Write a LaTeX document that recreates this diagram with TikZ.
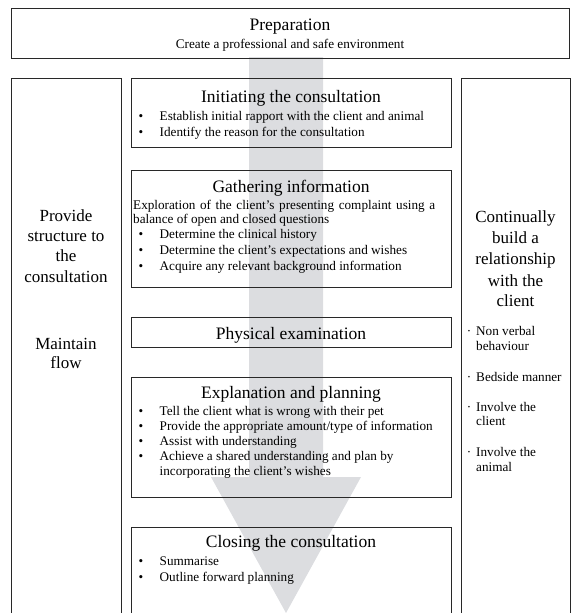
\documentclass[tikz,border=0pt]{standalone}
\usepackage{fontspec}
\setmainfont{Liberation Serif}
\definecolor{arrowgray}{RGB}{220,221,224}
\definecolor{linegray}{RGB}{40,40,40}
\begin{document}
\begin{tikzpicture}[x=1pt,y=-1pt,
  box/.style={draw=linegray, line width=0.9pt, inner sep=0pt, anchor=north west},
  head/.style={font=\fontsize{17.5}{20}\selectfont, anchor=base, inner sep=0pt},
  bodyc/.style={font=\fontsize{13.2}{15}\selectfont, anchor=base, inner sep=0pt},
  body/.style={font=\fontsize{13.2}{15}\selectfont, anchor=base west, inner sep=0pt},
  side/.style={font=\fontsize{17}{20}\selectfont, anchor=base, inner sep=0pt},
  bul/.style={font=\fontsize{13.2}{15}\selectfont, anchor=base, inner sep=0pt}]
\useasboundingbox (0,0) rectangle (572,613);
\clip (0,0) rectangle (572,613);
% big gray arrow
\fill[arrowgray] (249,57) -- (323,57) -- (323,477) -- (361,477) -- (286,613) -- (211,477) -- (249,477) -- cycle;
% boxes
\node[box, minimum width=558pt, minimum height=49.5pt] (prep) at (11,8) {};
\node[box, minimum width=109.7pt, minimum height=560pt] (left) at (11,77.7) {};
\node[box, minimum width=109pt, minimum height=560pt] (right) at (461,77.7) {};
\node[box, minimum width=320pt, minimum height=69pt] (init) at (131,77.7) {};
\node[box, minimum width=320pt, minimum height=117.3pt] (gath) at (131,170) {};
\node[box, minimum width=320pt, minimum height=30pt] (phys) at (131,317.3) {};
\node[box, minimum width=320pt, minimum height=119.4pt] (expl) at (131,377.3) {};
\node[box, minimum width=320pt, minimum height=100pt] (clos) at (131,527.3) {};
% preparation
\node[head] (t1) at (290,30) {Preparation};
\node[bodyc] (t2) at (290,48) {Create a professional and safe environment};
% initiating
\node[head] (t3) at (291,102) {Initiating the consultation};
\node[bul] (b1) at (141,120.5) {•};
\node[body] (t4) at (159.5,120.5) {Establish initial rapport with the client and animal};
\node[bul] (b2) at (141,136.5) {•};
\node[body] (t5) at (159.5,136.5) {Identify the reason for the consultation};
% gathering
\node[head] (t6) at (291,192.3) {Gathering information};
\node[body] (t7) at (133,209.3) {\makebox[302pt][s]{Exploration of the client’s presenting complaint using a}};
\node[body] (t8) at (133,223.3) {balance of open and closed questions};
\node[bul] (b3) at (141,238.7) {•};
\node[body] (t9) at (159.5,238.7) {Determine the clinical history};
\node[bul] (b4) at (141,254.3) {•};
\node[body] (t10) at (159.5,254.3) {Determine the client’s expectations and wishes};
\node[bul] (b5) at (141,270) {•};
\node[body] (t11) at (159.5,270) {Acquire any relevant background information};
% physical
\node[head] (t12) at (291,339) {Physical examination};
% explanation
\node[head] (t13) at (291,398.7) {Explanation and planning};
\node[bul] (b6) at (141,415) {•};
\node[body] (t14) at (159.5,415) {Tell the client what is wrong with their pet};
\node[bul] (b7) at (141,430) {•};
\node[body] (t15) at (159.5,430) {Provide the appropriate amount/type of information};
\node[bul] (b8) at (141,445) {•};
\node[body] (t16) at (159.5,445) {Assist with understanding};
\node[bul] (b9) at (141,460) {•};
\node[body] (t17) at (159.5,460) {Achieve a shared understanding and plan by};
\node[body] (t18) at (159.5,475) {incorporating the client’s wishes};
% closing
\node[head] (t19) at (291,547.3) {Closing the consultation};
\node[bul] (b10) at (141,565) {•};
\node[body] (t20) at (159.5,565) {Summarise};
\node[bul] (b11) at (141,581.7) {•};
\node[body] (t21) at (159.5,581.7) {Outline forward planning};
% left column
\node[side] (l1) at (66,221) {Provide};
\node[side] (l2) at (66,241.5) {structure to};
\node[side] (l3) at (66,261.5) {the};
\node[side] (l4) at (66,282) {consultation};
\node[side] (l5) at (66,349) {Maintain};
\node[side] (l6) at (66,368) {flow};
% right column
\node[side] (r1) at (515.5,222) {Continually};
\node[side] (r2) at (515.5,243) {build a};
\node[side] (r3) at (515.5,264.5) {relationship};
\node[side] (r4) at (515.5,286) {with the};
\node[side] (r5) at (515.5,306.5) {client};
\node[bul] (d1) at (469,335) {·};
\node[body] (r6) at (476,335) {Non verbal};
\node[body] (r7) at (476,350) {behaviour};
\node[bul] (d2) at (469,381.7) {·};
\node[body] (r8) at (476,381.7) {Bedside manner};
\node[bul] (d3) at (469,411) {·};
\node[body] (r9) at (476,411) {Involve the};
\node[body] (r10) at (476,425) {client};
\node[bul] (d4) at (469,456.7) {·};
\node[body] (r11) at (476,456.7) {Involve the};
\node[body] (r12) at (476,471) {animal};
\end{tikzpicture}
\end{document}
